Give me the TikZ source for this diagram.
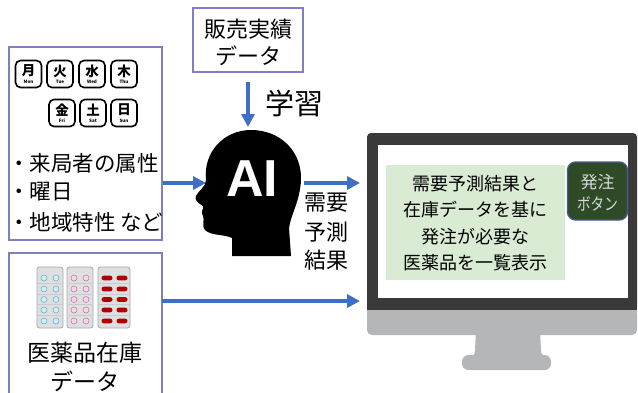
\documentclass[tikz,border=0pt]{standalone}
\usepackage{fontspec}
\setmainfont{Noto Sans CJK JP}
\newfontfamily\latinbold{Liberation Sans}
\usetikzlibrary{arrows.meta}

\definecolor{boxline}{HTML}{7F7FBF}
\definecolor{flowblue}{HTML}{3E6EC5}
\definecolor{bezel}{HTML}{3A3A3A}
\definecolor{standgray}{HTML}{B5B6B8}
\definecolor{panelgreen}{HTML}{D9EBD3}
\definecolor{btnfill}{HTML}{2E4A27}
\definecolor{btnline}{HTML}{4B5A93}
\definecolor{btntext}{HTML}{D8D8D8}
\definecolor{packfill}{HTML}{DEDFE1}
\definecolor{packline}{HTML}{A6A8AB}

\tikzset{
  inbox/.style={draw=boxline, line width=1.2pt, inner sep=0pt},
  flow/.style={draw=flowblue, line width=3.5pt, -{Triangle[length=13pt,width=13pt]}},
  jtext/.style={font=\fontsize{#1}{#1}\selectfont, inner sep=0pt},
  dayicon/.style={draw=black, line width=1.6pt, rounded corners=5pt,
    minimum width=26pt, minimum height=27pt, inner sep=0pt},
  pack/.style={draw=packline, fill=packfill, line width=0.8pt, rounded corners=2.5pt}
}

\begin{document}
\begin{tikzpicture}[x=1pt,y=-1pt]
\useasboundingbox (0,0) rectangle (638,392);
\fill[white] (0,0) rectangle (638,392);

% Drawing input boxes
\node[inbox, minimum width=153pt, minimum height=193pt] (factors) at (85.5,143.5) {};
\draw[boxline, line width=1.2pt] (9,395) -- (9,253) -- (162,253) -- (162,395);
\coordinate (stock-east) at (162,301);
\node[inbox, minimum width=110pt, minimum height=64pt] (sales) at (248,40) {};
\node[jtext=22] (sales-l1) at (248,29) {販売実績};
\node[jtext=22] (sales-l2) at (248,56) {データ};

% Weekday icons
\foreach \x/\y/\kj/\en in {28.5/74/月/Mon, 60/74/火/Tue, 92/74/水/Wed, 124/74/木/Thu,
                           62/113/金/Fri, 93/113/土/Sat, 124/113/日/Sun} {
  \node[dayicon] (day-\en) at (\x,\y) {};
  \node[inner sep=0pt, font=\bfseries\fontsize{13.5}{13.5}\selectfont] (kj-\en) at ([yshift=3pt]day-\en.center) {\kj};
  \node[inner sep=0pt, font=\bfseries\fontsize{4.5}{4.5}\selectfont] (en-\en) at ([yshift=-8pt]day-\en.center) {\en};
}

% Factor list
\node[jtext=21.5, anchor=west] (f1) at (8,163) {・来局者の属性};
\node[jtext=21.5, anchor=west] (f2) at (8,192) {・曜日};
\node[jtext=21.5, anchor=west] (f3) at (8,222) {・地域特性 など};

% Blister packs
\draw[pack] (37,267) rectangle (63,328);
\draw[pack] (67,267) rectangle (93,328);
\draw[pack] (98,267) rectangle (130,328);
\foreach \y in {283.5,294,304.5,315.5} {
  \draw[packline!60, line width=0.4pt] (38,\y) -- (62,\y);
  \draw[packline!60, line width=0.4pt] (68,\y) -- (92,\y);
  \draw[packline!60, line width=0.4pt] (99,\y) -- (129,\y);
}
\foreach \y in {278,289,299.5,310,321} {
  \foreach \x in {44,56}
    \draw[fill=cyan!20, draw=cyan!40!gray, line width=0.5pt] (\x,\y) circle (3pt);
  \foreach \x in {74,86}
    \draw[fill=magenta!18, draw=magenta!30!gray, line width=0.5pt] (\x,\y) circle (3pt);
  \foreach \x in {107,122}
    \fill[red!70!black, rounded corners=2.2pt] ({\x-5.5},{\y-2.3}) rectangle ({\x+5.5},{\y+2.3});
}
\node[jtext=23] (stock-l1) at (85,353) {医薬品在庫};
\node[jtext=23] (stock-l2) at (85,381) {データ};

% AI head
\fill[black] (232,256) -- (232,238)
  .. controls (224,234) and (211,236) .. (205,230)
  .. controls (201,226) and (205,220) .. (203,216)
  .. controls (200,212) and (204,209) .. (203,206)
  .. controls (198,203) and (194,200) .. (196,196)
  .. controls (198,191) and (206,187) .. (206,180)
  .. controls (203,152) and (224,130) .. (251,130)
  .. controls (281,130) and (302,152) .. (301,180)
  .. controls (300,201) and (291,214) .. (289,228)
  -- (291,256) -- cycle;
\node[text=white, inner sep=0pt, font=\latinbold\bfseries\fontsize{52}{52}\selectfont] (ai) at (252,179) {AI};
\coordinate (ai-in) at (206,183);
\coordinate (ai-out) at (304,183);
\coordinate (ai-top) at (248,127);
\node[jtext=29] (learn) at (294,103) {学習};

% Monitor
\fill[bezel, rounded corners=4pt] (367,133) rectangle (637,312);
\fill[bezel] (367,300) rectangle (637,312);
\fill[standgray, rounded corners=5pt] (367,310) rectangle (637,335);
\fill[standgray] (367,310) rectangle (637,320);
\fill[standgray] (476,330) -- (540,330) -- (541,350)
  .. controls (541,355) and (544,356) .. (546,357) -- (470,357)
  .. controls (473,356) and (475,355) .. (475,350) -- cycle;
\fill[standgray, rounded corners=6.5pt] (462,355) rectangle (551,370);
\node[fill=white, minimum width=250pt, minimum height=153pt, inner sep=0pt] (screen) at (503,221.5) {};
\coordinate (screen-hi) at (360,183);
\coordinate (screen-lo) at (360,301);
\node[fill=panelgreen, minimum width=179pt, minimum height=115pt, inner sep=0pt] (panel) at (475.5,222.5) {};
\node[jtext=18] (p1) at (475,184) {需要予測結果と};
\node[jtext=18] (p2) at (475,210) {在庫データを基に};
\node[jtext=18] (p3) at (475,237) {発注が必要な};
\node[jtext=18] (p4) at (475,263) {医薬品を一覧表示};
\node[fill=btnfill, draw=btnline, line width=1.3pt, rounded corners=8pt,
      minimum width=60pt, minimum height=58pt, inner sep=0pt] (order) at (597.5,191) {};
\node[jtext=17, text=btntext] (order-l1) at (597.5,182) {発注};
\node[jtext=17, text=btntext] (order-l2) at (597.5,204) {\scalebox{0.8}[1]{ボタン}};

% Connectors
\draw[flow] (factors.east |- ai-in) -- (ai-in);
\draw[flow, shorten <=9pt] (sales.south) -- (ai-top);
\draw[flow] (ai-out) -- (screen-hi);
\draw[flow] (stock-east) -- (screen-lo);
\node[jtext=22] (res-l1) at (326,203) {需要};
\node[jtext=22] (res-l2) at (326,232) {予測};
\node[jtext=22] (res-l3) at (326,260) {結果};
\end{tikzpicture}
\end{document}
